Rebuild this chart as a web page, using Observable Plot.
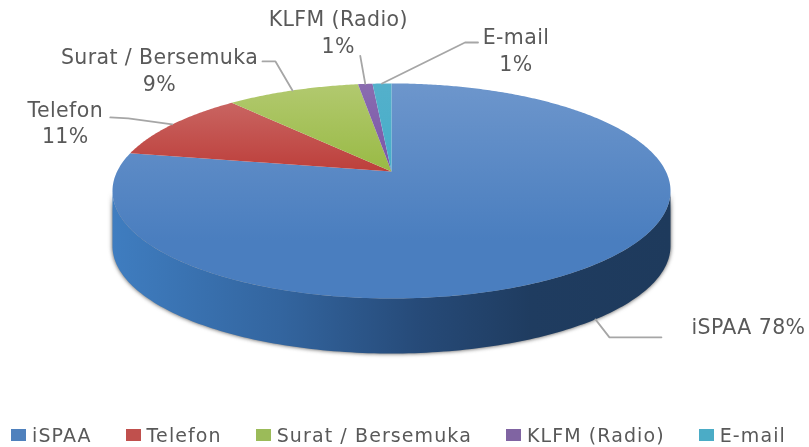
<!DOCTYPE html>
<html>
<head>
<meta charset="utf-8">
<script src="https://cdn.jsdelivr.net/npm/d3@7"></script>
<script src="https://cdn.jsdelivr.net/npm/@observablehq/plot@0.6"></script>
<style>
html,body{margin:0;padding:0;background:#fff;width:809px;height:447px;overflow:hidden}
#legend{display:flex;column-gap:34px;padding-left:11px;margin-top:3px;height:24px;align-items:center;font:19px "DejaVu Sans",sans-serif;letter-spacing:1.1px;color:#595959;white-space:nowrap;filter:blur(0.4px)}
#legend i{display:inline-block;width:15px;height:12px;margin-right:6px}
#legend span{display:flex;align-items:center}
svg{display:block}
</style>
</head>
<body>
<div id="chart"></div>
<div id="legend"></div>
<script>
// Data
const categories = ["iSPAA", "Telefon", "Surat / Bersemuka", "KLFM (Radio)", "E-mail"];
const shares = [77.9, 10.6, 9.2, 1.0, 1.3];          // slice sizes as drawn
const percentLabels = ["78%", "11%", "9%", "1%", "1%"]; // the printed labels

// Colours
const legendColors = ["#4f81bd", "#c0504d", "#9bbb59", "#8064a2", "#4bacc6"];
const topStops = [
  ["#6d96cc", "#4a7ebf"],
  ["#cc6f6c", "#bd3f3b"],
  ["#b2c96f", "#99ba45"],
  ["#8a6cb0", "#7a55a8"],
  ["#54b0cb", "#45aec9"]
];
const sideStops = [["0", "#3f7dc0"], ["0.3", "#33659f"], ["0.55", "#264a78"], ["0.75", "#1f3c60"], ["1", "#1e3a5c"]];

// Perspective of the tilted disc
const tilt = 0.181;     // how much the far edge shrinks
const depth = 0.529;    // thickness, in y-scale units
const project = (angle, drop = 0) => {
  const X = Math.sin(angle), Y = Math.cos(angle), w = 1 + tilt * Y;
  return {x: X / w, y: Y / w - drop};
};
const xUnit = 274.4, yUnit = 104;
const offset = (p, dx, dy) => ({x: p.x + dx / xUnit, y: p.y - dy / yUnit});

// Slices, clockwise from 12 o'clock
const total = d3.sum(shares);
let running = 0;
const slices = categories.map((name, i) => {
  const a0 = running / total * 2 * Math.PI;
  running += shares[i];
  const a1 = running / total * 2 * Math.PI;
  const steps = Math.max(2, Math.ceil((a1 - a0) / 0.01));
  const rim = d3.range(steps + 1).map(k => project(a0 + (a1 - a0) * k / steps));
  return {name, a0, a1, mid: (a0 + a1) / 2, poly: [{x: 0, y: 0}, ...rim, {x: 0, y: 0}]};
});

// Side wall (front half of the disc)
const sideFrom = Math.acos(-tilt), sideTo = 2 * Math.PI - sideFrom;
const sideAngles = d3.range(161).map(k => sideFrom + (sideTo - sideFrom) * k / 160);
const sidePoly = [...sideAngles.map(a => project(a)), ...sideAngles.slice().reverse().map(a => project(a, depth))];

// Leader elbows and label spots, as pixel offsets from the rim point at each slice's middle
const leaderSteps = [
  [[0, 0], [14, 18], [66, 18]],       // iSPAA
  [[0, 0], [-44, -6], [-62, -7]],     // Telefon
  [[0, 0], [-17, -29], [-30, -29]],   // Surat
  [[0, 0], [-5, -28]],                // KLFM
  [[0, 0], [83, -41], [96, -41]]      // E-mail
];
const labelSpots = [[153, 6], [-107, -3], [-133, -21.5], [-27, -53], [134, -34.5]];
const labelTexts = categories.map((c, i) => i === 0 ? `${c} ${percentLabels[i]}` : `${c}\n${percentLabels[i]}`);

const anchors = slices.map((s, i) => project(s.mid, i === 0 ? depth : 0));
const leaders = leaderSteps.flatMap((steps, i) => steps.map(([dx, dy]) => ({...offset(anchors[i], dx, dy), i})));
const labels = labelSpots.map(([dx, dy], i) => ({...offset(anchors[i], dx, dy), text: labelTexts[i]}));

// Gradients
function defs() {
  const NS = "http://www.w3.org/2000/svg";
  const d = document.createElementNS(NS, "defs");
  const make = (id, attrs, stops) => {
    const g = document.createElementNS(NS, "linearGradient");
    g.setAttribute("id", id);
    for (const k in attrs) g.setAttribute(k, attrs[k]);
    for (const [o, c] of stops) {
      const s = document.createElementNS(NS, "stop");
      s.setAttribute("offset", o);
      s.setAttribute("stop-color", c);
      g.appendChild(s);
    }
    d.appendChild(g);
  };
  topStops.forEach(([a, b], i) => make(`top${i}`,
    {gradientUnits: "userSpaceOnUse", x1: 0, x2: 0, y1: 83, y2: i === 0 ? 240 : 171},
    [["0", a], ["1", b]]));
  make("side", {x1: 0, x2: 1, y1: 0, y2: 0}, sideStops);
  return d;
}

const chart = Plot.plot({
  width: 809, height: 420,
  margin: 0,
  x: {axis: null, domain: [-1, 1], range: [391 - xUnit, 391 + xUnit]},
  y: {axis: null, domain: [-1, 1], range: [171 + yUnit, 171 - yUnit]},
  style: {background: "transparent", filter: "blur(0.4px)", letterSpacing: "0.4px"},
  marks: [
    defs,
    Plot.line(sidePoly, {x: "x", y: "y", fill: "#4a4a4a", stroke: "none", imageFilter: "blur(2px)"}),
    Plot.line(sidePoly, {x: "x", y: "y", fill: "url(#side)", stroke: "none"}),
    ...slices.map((s, i) => Plot.line(s.poly, {x: "x", y: "y", fill: `url(#top${i})`, stroke: "none"})),
    Plot.line(leaders, {x: "x", y: "y", z: "i", stroke: "#a6a6a6", strokeWidth: 1.8}),
    Plot.text(labels, {x: "x", y: "y", text: "text", fill: "#595959", fontSize: 20.5, lineHeight: 1.3,
      fontFamily: "'DejaVu Sans', sans-serif"})
  ]
});
document.getElementById("chart").appendChild(chart);

// Legend below the plot
const legend = document.getElementById("legend");
categories.forEach((c, i) => {
  const item = document.createElement("span");
  const sw = document.createElement("i");
  sw.style.background = legendColors[i];
  item.appendChild(sw);
  item.appendChild(document.createTextNode(c));
  legend.appendChild(item);
});
</script>
</body>
</html>
